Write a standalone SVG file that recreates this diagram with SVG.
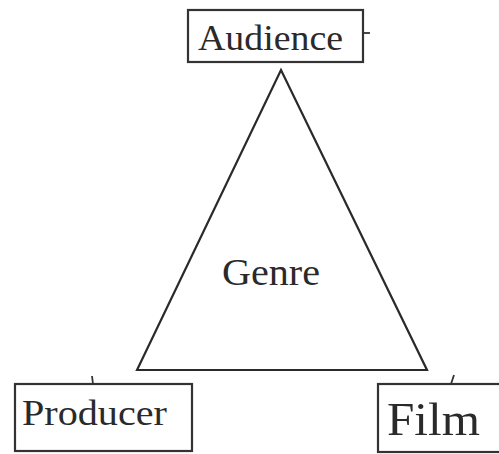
<svg xmlns="http://www.w3.org/2000/svg" width="499" height="454" viewBox="0 0 499 454">
<style>
.box{fill:#fff;stroke:#333;stroke-width:2.2}
.ln{fill:none;stroke:#2a2a2a;stroke-width:2.2;stroke-linejoin:miter}
.tk{fill:none;stroke:#333;stroke-width:1.8}
text{font-family:"Liberation Serif","Times New Roman",serif;fill:#2a2a2a}
</style>
<rect width="499" height="454" fill="#fff"/>
<g id="connectors">
<path class="ln" d="M137,370 L281,70 L427,370 Z"/>
</g>
<g id="genre">
<text x="222" y="285" font-size="37" textLength="98" lengthAdjust="spacingAndGlyphs">Genre</text>
</g>
<g id="audience">
<rect class="box" x="188" y="10" width="175" height="52"/>
<path class="tk" d="M363,33 L370,33"/>
<text x="198" y="50" font-size="36" textLength="145" lengthAdjust="spacingAndGlyphs">Audience</text>
</g>
<g id="producer">
<rect class="box" x="15" y="384" width="177" height="67"/>
<path class="tk" d="M92,376 L93,384"/>
<text x="22" y="425" font-size="35" textLength="145" lengthAdjust="spacingAndGlyphs">Producer</text>
</g>
<g id="film">
<rect class="box" x="378" y="384" width="130" height="68"/>
<path class="tk" d="M451,384 L454,375"/>
<text x="387" y="435" font-size="47" textLength="93" lengthAdjust="spacingAndGlyphs">Film</text>
</g>
</svg>
